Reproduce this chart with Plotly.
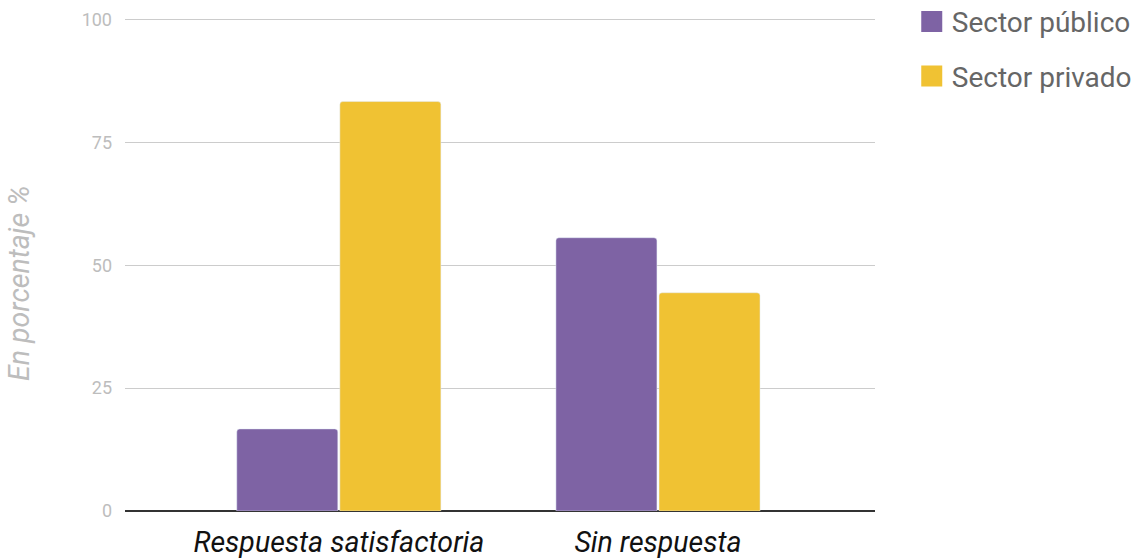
import plotly.graph_objects as go

categories = ["Respuesta satisfactoria", "Sin respuesta"]
publico = [16.7, 55.6]
privado = [83.3, 44.4]
series_names = ["Sector público", "Sector privado"]
colors = ["#7e63a4", "#f0c233"]
y_ticks = [0, 25, 50, 75, 100]

fig = go.Figure()
for vals, name, col in [(publico, series_names[0], colors[0]), (privado, series_names[1], colors[1])]:
    fig.add_trace(go.Bar(x=categories, y=vals, name=name, marker=dict(color=col),
                         showlegend=False))
# legend entries (larger square swatches)
for i, (name, col) in enumerate(zip(series_names, colors)):
    fig.add_trace(go.Scatter(x=[None], y=[None], mode="markers", name=name,
                             legendgroup=str(i),
                             marker=dict(symbol="square", size=16, color=col,
                                         line=dict(color=col, width=5))))

fig.update_layout(
    width=1139, height=559,
    margin=dict(l=125, r=264, t=18, b=48, autoexpand=False),
    paper_bgcolor="white", plot_bgcolor="white",
    barmode="group", bargap=0.354, bargroupgap=0.02, barcornerradius=3,
    font=dict(family="Roboto"),
    legend=dict(x=1.049, y=1.043, xanchor="left", yanchor="top",
                font=dict(size=28, color="#666666"), tracegroupgap=15,
                itemwidth=30, itemsizing="trace"),
    showlegend=True,
    annotations=[dict(text="En porcentaje %", xref="paper", yref="paper",
                      x=-0.14, y=0.4625, xanchor="center", yanchor="middle",
                      textangle=-90, showarrow=False,
                      font=dict(size=28.5, color="#bdbdbd", style="italic"))],
)
fig.update_xaxes(range=[-0.67, 1.68], showgrid=False, showline=False,
                 tickfont=dict(size=28.5, color="#111111", family="Roboto", style="italic"),
                 ticks="", ticklabelstandoff=11)
fig.update_yaxes(range=[0, 100.3], tickvals=y_ticks, showgrid=True, gridcolor="#cccccc",
                 gridwidth=1.3, zeroline=True, zerolinecolor="#333333", zerolinewidth=1.5,
                 tickfont=dict(size=18, color="#bdbdbd"), ticks="", ticklabelstandoff=12)

fig.write_html("out.html")
